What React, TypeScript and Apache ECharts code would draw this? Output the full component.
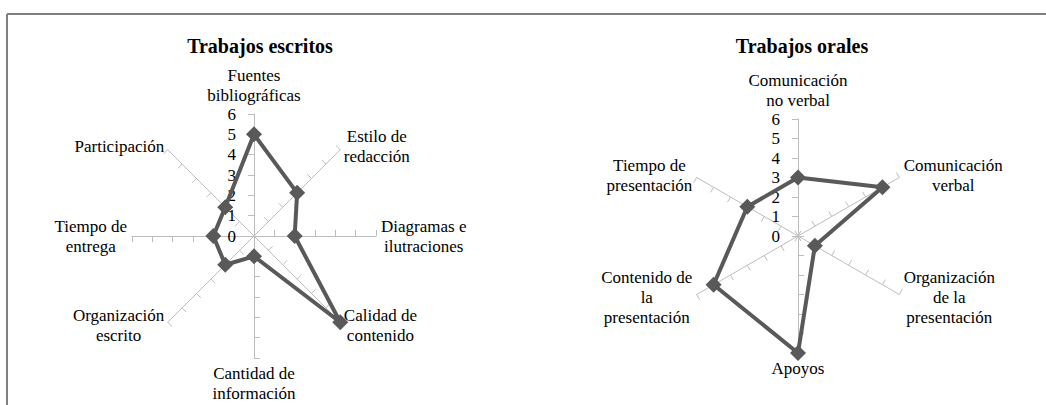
import React, { useEffect, useRef } from "react";
import * as echarts from "echarts";

const writtenTitle = "Trabajos escritos";
const oralTitle = "Trabajos orales";

// counter-clockwise order starting at the top
const writtenIndicators = [
  "Fuentes\nbibliográficas",
  "Participación",
  "Tiempo de\nentrega",
  "Organización\nescrito",
  "Cantidad de\ninformación",
  "Calidad de\ncontenido",
  "Diagramas e\nilutraciones",
  "Estilo de\nredacción",
];
const writtenValues = [5, 2, 2, 2, 1, 6, 2, 3];

const oralIndicators = [
  "Comunicación\nno verbal",
  "Tiempo de\npresentación",
  "Contenido de\nla\npresentación",
  "Apoyos",
  "Organización\nde la\npresentación",
  "Comunicación\nverbal",
];
const oralValues = [3, 3, 5, 6, 1, 5];

const axisMax = 6;

const FONT = "'Liberation Serif', 'Times New Roman', serif";
const LINE = "#595959";
const AXIS = "#bdbdbd";
const NAME_SIZE = 17;

export default function App() {
  const ref = useRef<HTMLDivElement>(null);
  useEffect(() => {
    if (!ref.current) return;
    const chart = echarts.init(ref.current, null, { renderer: "svg" });
    const mkInd = (names: string[]) =>
      names.map((n, i) => ({
        name: n,
        min: 0,
        max: axisMax,
        axisLabel: { show: i === 0 },
      }));
    const radarBase = {
      shape: "polygon" as const,
      startAngle: 90,
      splitNumber: 6,
      nameGap: 5,
      axisName: {
        color: "#000",
        fontSize: NAME_SIZE,
        fontFamily: FONT,
        lineHeight: 20,
        formatter: (name: string) =>
          name
            .split("\n")
            .map((l) => `{c|${l}}`)
            .join("\n"),
        rich: {
          c: {
            align: "center",
            color: "#000",
            fontSize: NAME_SIZE,
            fontFamily: FONT,
            lineHeight: 20,
          },
        },
      },
      axisLine: { lineStyle: { color: AXIS, width: 1 } },
      axisTick: { show: true, length: 6, lineStyle: { color: AXIS, width: 1 } },
      axisLabel: {
        show: false,
        color: "#000",
        fontSize: NAME_SIZE,
        fontFamily: FONT,
        margin: 18,
        showMinLabel: true,
      },
      splitLine: { show: false },
      splitArea: { show: false },
    };
    const titleStyle = { fontFamily: FONT, fontSize: 20, fontWeight: "bold", color: "#000" };
    chart.setOption({
      animation: false,
      backgroundColor: "#fff",
      title: [
        { text: writtenTitle, left: 255, top: 31, textAlign: "center", textStyle: titleStyle },
        { text: oralTitle, left: 797, top: 31, textAlign: "center", textStyle: titleStyle },
      ],
      graphic: [
        { type: "line", shape: { x1: 7, y1: 14, x2: 1046, y2: 14 }, style: { stroke: "#7f7f7f", lineWidth: 2 } },
        { type: "line", shape: { x1: 7, y1: 14, x2: 7, y2: 405 }, style: { stroke: "#7f7f7f", lineWidth: 2 } },
      ],
      radar: [
        { ...radarBase, center: [254, 236], radius: 122, indicator: mkInd(writtenIndicators) },
        { ...radarBase, center: [798, 236], radius: 117, indicator: mkInd(oralIndicators) },
      ],
      series: [
        {
          type: "radar",
          radarIndex: 0,
          symbol: "diamond",
          symbolSize: 16,
          lineStyle: { color: LINE, width: 4 },
          itemStyle: { color: LINE },
          data: [{ value: writtenValues, name: writtenTitle }],
        },
        {
          type: "radar",
          radarIndex: 1,
          symbol: "diamond",
          symbolSize: 16,
          lineStyle: { color: LINE, width: 4 },
          itemStyle: { color: LINE },
          data: [{ value: oralValues, name: oralTitle }],
        },
      ],
    });
    return () => chart.dispose();
  }, []);
  return (
    <div
      ref={ref}
      style={{ position: "absolute", left: 0, top: 0, width: 1046, height: 405 }}
    />
  );
}
